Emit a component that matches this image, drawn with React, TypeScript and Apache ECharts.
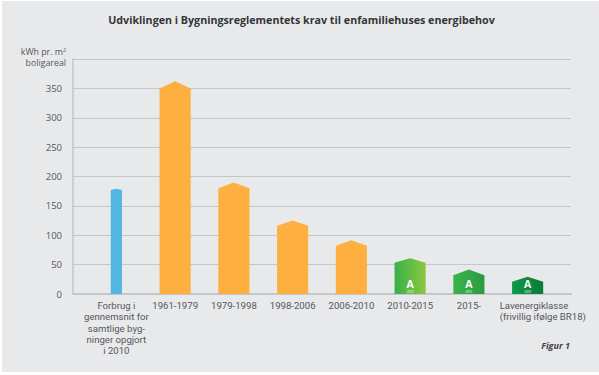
import React, { useEffect, useRef } from "react";
import * as echarts from "echarts";

const titleText = "Udviklingen i Bygningsreglementets krav til enfamiliehuses energibehov";
const yAxisName = "kWh pr. m²\nboligareal";
const figureNote = "Figur 1";
const categories = [
  "Forbrug i\ngennemsnit for\nsamtlige byg-\nninger opgjort\ni 2010",
  "1961-1979",
  "1979-1998",
  "1998-2006",
  "2006-2010",
  "2010-2015",
  "2015-",
  "Lavenergiklasse\n(frivillig ifølge BR18)",
];
const roofPeak = [179, 362, 190, 125, 91.5, 61, 41.5, 29.5];
const roofEdge = [177, 350, 180, 116, 82, 53, 32, 21];
const badgeYears = ["", "", "", "", "", "2010", "2015", "2020"];

const ORANGE = "#fdb03f";
const linear = (a: string, b: string) =>
  new echarts.graphic.LinearGradient(0, 0, 1, 0, [
    { offset: 0, color: a },
    { offset: 1, color: b },
  ]);
const fills: any[] = [
  "#50b7e2",
  ORANGE,
  ORANGE,
  ORANGE,
  ORANGE,
  linear("#37b04a", "#8dc63f"),
  linear("#3ab54a", "#2a9a45"),
  linear("#0e9a48", "#0a7a3a"),
];
const FONT = "'Open Sans', sans-serif";
const LABEL_FONT = "Roboto, sans-serif";
const TEXT = "#55575a";
const LINE = "#c4c6c9";

export default function App() {
  const ref = useRef<HTMLDivElement>(null);
  useEffect(() => {
    document.body.style.margin = "0";
    const chart = echarts.init(ref.current!, null, { renderer: "svg" });
    chart.setOption({
      animation: false,
      backgroundColor: "#ffffff",
      textStyle: { fontFamily: FONT },
      title: {
        text: titleText,
        left: 296.5,
        top: 9,
        textAlign: "center",
        textStyle: { fontFamily: FONT, fontWeight: "bold", fontSize: 10.7, color: "#333538" },
      },
      graphic: [
        { type: "rect", z: -10, silent: true, shape: { x: 2, y: 1, width: 597, height: 371 }, style: { fill: "#e8e9eb" } },
        {
          type: "text",
          x: 570,
          y: 341,
          style: {
            text: figureNote,
            align: "right",
            fill: "#444649",
            font: "italic bold 9px " + FONT,
          },
        },
      ],
      grid: [
        { left: 73, top: 59, width: 498, height: 235 },
        { left: 87, top: 59, width: 470, height: 235 },
      ],
      xAxis: [
        {
          gridIndex: 0,
          type: "category",
          data: categories,
          axisLine: { show: true, lineStyle: { color: LINE, width: 2 } },
          axisTick: { show: false },
          axisLabel: { show: false },
        },
        {
          gridIndex: 1,
          type: "category",
          data: categories.map((c, i) =>
            i === categories.length - 1
              ? { value: c, textStyle: { padding: [0, 0, 0, 31] } }
              : c
          ),
          axisLine: { show: false },
          axisTick: { show: false },
          axisLabel: {
            interval: 0,
            margin: 6,
            color: TEXT,
            fontSize: 9.6,
            lineHeight: 11.3,
            fontFamily: LABEL_FONT,
            verticalAlign: "top",
            formatter: (v: string) =>
              v.startsWith("Lav")
                ? v.split("\n").map((s) => `{left|${s}}`).join("\n")
                : v,
            rich: { left: { width: 87, align: "left", fontSize: 9.6, lineHeight: 11.3, color: TEXT, fontFamily: LABEL_FONT } },
          },
        },
      ],
      yAxis: [
        {
          gridIndex: 0,
          type: "value",
          min: 0,
          max: 400,
          interval: 50,
          name: yAxisName,
          nameLocation: "end",
          nameGap: -10,
          nameTextStyle: { color: TEXT, fontSize: 8.8, lineHeight: 11.5, align: "right", fontFamily: FONT, padding: [0, 7, 0, 0] },
          axisLine: { show: true, lineStyle: { color: LINE, width: 1.5 } },
          axisTick: { show: false },
          splitLine: { show: true, lineStyle: { color: LINE, width: 1.2 } },
          axisLabel: {
            margin: 11,
            color: TEXT,
            fontSize: 9.5,
            fontFamily: FONT,
            padding: [0, 0, 2, 0],
            formatter: (v: number) => (v === 400 ? "" : String(v)),
          },
        },
        { gridIndex: 1, type: "value", min: 0, max: 400, interval: 50, show: false },
      ],
      series: [
        {
          type: "custom",
          xAxisIndex: 1,
          yAxisIndex: 1,
          data: categories.map((_, i) => [i, roofPeak[i], roofEdge[i]]),
          renderItem: (_p: any, api: any) => {
            const i = api.value(0);
            const band = api.size([1, 0])[0];
            const w = i === 0 ? band * 0.19 : band * 0.53;
            const [cx, yPeak] = api.coord([i, api.value(1)]);
            const yEdge = api.coord([i, api.value(2)])[1];
            const y0 = api.coord([i, 0])[1];
            const children: any[] = [
              {
                type: "polygon",
                shape: {
                  points: [
                    [cx - w / 2, y0],
                    [cx - w / 2, yEdge],
                    [cx, yPeak],
                    [cx + w / 2, yEdge],
                    [cx + w / 2, y0],
                  ],
                },
                style: { fill: fills[i] },
              },
            ];
            if (badgeYears[i]) {
              children.push(
                {
                  type: "text",
                  style: { text: "A", x: cx, y: y0 - 10.5, align: "center", verticalAlign: "middle", lineHeight: 8, fill: "#ffffff", font: "bold 10.5px " + FONT },
                },
                {
                  type: "text",
                  style: { text: badgeYears[i], x: cx, y: y0 - 2, align: "center", verticalAlign: "middle", lineHeight: 3, fill: "#ffffff", font: "3px " + FONT },
                }
              );
            }
            return { type: "group", children };
          },
        },
      ],
    });
    return () => chart.dispose();
  }, []);
  return <div ref={ref} style={{ width: 599, height: 375 }} />;
}
